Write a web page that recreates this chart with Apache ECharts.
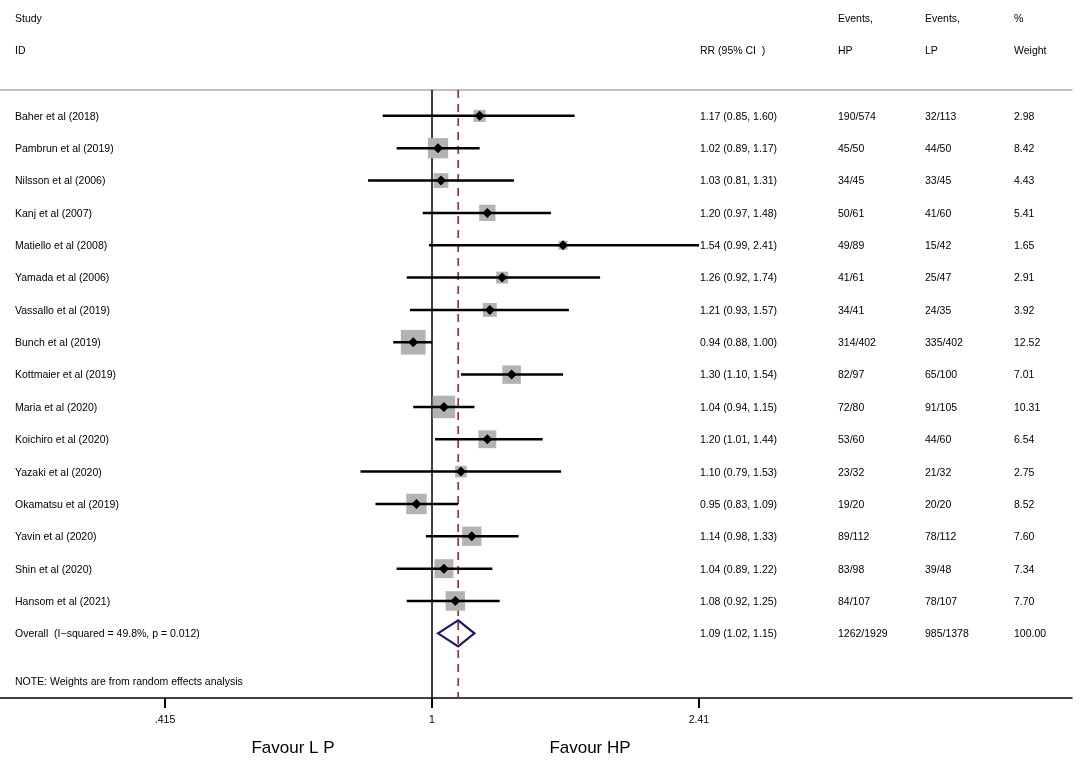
<!DOCTYPE html>
<html>
<head>
<meta charset="utf-8">
<title>Forest plot</title>
<script src="https://cdn.jsdelivr.net/npm/echarts@6/dist/echarts.min.js"></script>
<style>
  html, body { margin: 0; padding: 0; background: #fff; }
  #main { width: 1084px; height: 766px; }
</style>
</head>
<body>
<div id="main"></div>
<script>
var studies = [
  "Baher et al (2018)", "Pambrun et al (2019)", "Nilsson et al (2006)", "Kanj et al (2007)",
  "Matiello et al (2008)", "Yamada et al (2006)", "Vassallo et al (2019)", "Bunch et al (2019)",
  "Kottmaier et al (2019)", "Maria et al (2020)", "Koichiro et al (2020)", "Yazaki et al (2020)",
  "Okamatsu et al (2019)", "Yavin et al (2020)", "Shin et al (2020)", "Hansom et al (2021)"
];
var rr = [1.17, 1.02, 1.03, 1.20, 1.54, 1.26, 1.21, 0.94, 1.30, 1.04, 1.20, 1.10, 0.95, 1.14, 1.04, 1.08];
var ciLow = [0.85, 0.89, 0.81, 0.97, 0.99, 0.92, 0.93, 0.88, 1.10, 0.94, 1.01, 0.79, 0.83, 0.98, 0.89, 0.92];
var ciHigh = [1.60, 1.17, 1.31, 1.48, 2.41, 1.74, 1.57, 1.00, 1.54, 1.15, 1.44, 1.53, 1.09, 1.33, 1.22, 1.25];
var eventsHP = ["190/574", "45/50", "34/45", "50/61", "49/89", "41/61", "34/41", "314/402", "82/97", "72/80", "53/60", "23/32", "19/20", "89/112", "83/98", "84/107"];
var eventsLP = ["32/113", "44/50", "33/45", "41/60", "15/42", "25/47", "24/35", "335/402", "65/100", "91/105", "44/60", "21/32", "20/20", "78/112", "39/48", "78/107"];
var weights = [2.98, 8.42, 4.43, 5.41, 1.65, 2.91, 3.92, 12.52, 7.01, 10.31, 6.54, 2.75, 8.52, 7.60, 7.34, 7.70];

var overallLabel = "Overall  (I\u2212squared = 49.8%, p = 0.012)";
var overallRR = 1.09, overallLow = 1.02, overallHigh = 1.15;
var overallHP = "1262/1929", overallLP = "985/1378", overallWeight = "100.00";

var tickLabels = [".415", "1", "2.41"];

// x axis works on ln(RR)
var tickVals = tickLabels.map(function (t) { return Math.log(Number(t)); });
var xMin = -1.4234, xMax = 2.1087;
var yMin = -0.8, yMax = 18;
var FONT = "Liberation Sans";
var FS = 10.5;

function fmt(v) { return v.toFixed(2); }

var rowText = studies.map(function (s, i) {
  return [s, fmt(rr[i]) + " (" + fmt(ciLow[i]) + ", " + fmt(ciHigh[i]) + ")", eventsHP[i], eventsLP[i], fmt(weights[i])];
});
rowText.push([overallLabel, fmt(overallRR) + " (" + fmt(overallLow) + ", " + fmt(overallHigh) + ")", overallHP, overallLP, overallWeight]);

var studyData = studies.map(function (s, i) {
  return [i, Math.log(rr[i]), Math.log(ciLow[i]), Math.log(ciHigh[i]), weights[i]];
});
var overallData = [[studies.length, Math.log(overallRR), Math.log(overallLow), Math.log(overallHigh)]];
var textData = rowText.map(function (r, i) { return [i, 0]; });

var colX = [15, 700, 838, 925, 1014];

function txt(t, x, y, size, align) {
  return {
    type: "text",
    style: { text: t, x: x, y: y, fill: "#000", fontSize: size || FS, fontFamily: FONT, align: align || "left", verticalAlign: "middle" }
  };
}

var option = {
  animation: false,
  backgroundColor: "#fff",
  grid: { left: 0, right: 12, top: 90, bottom: 68 },
  xAxis: [
    {
      type: "value",
      min: xMin,
      max: xMax,
      position: "bottom",
      axisLine: { show: true, onZero: false, lineStyle: { color: "#000", width: 1.5 } },
      axisTick: { show: true, customValues: tickVals, length: 10, lineStyle: { color: "#000", width: 2 } },
      axisLabel: {
        show: true,
        customValues: tickVals,
        margin: 17,
        color: "#000",
        fontSize: FS,
        fontFamily: FONT,
        formatter: function (v) {
          var best = 0;
          tickVals.forEach(function (t, k) { if (Math.abs(t - v) < Math.abs(tickVals[best] - v)) best = k; });
          return tickLabels[best];
        }
      },
      splitLine: { show: false }
    },
    {
      type: "value",
      min: xMin,
      max: xMax,
      position: "top",
      axisLine: { show: true, onZero: false, lineStyle: { color: "#a8a8a8", width: 1.5 } },
      axisTick: { show: false },
      axisLabel: { show: false },
      splitLine: { show: false }
    }
  ],
  yAxis: {
    type: "value",
    inverse: true,
    min: yMin,
    max: yMax,
    show: false
  },
  series: [
    {
      type: "line",
      z: 1,
      data: [[0, yMin], [0, yMax]],
      symbol: "none",
      silent: true,
      lineStyle: { color: "#000", width: 1.5 }
    },
    {
      type: "line",
      z: 1,
      data: [[Math.log(overallRR), yMin], [Math.log(overallRR), yMax]],
      symbol: "none",
      silent: true,
      lineStyle: { color: "#a3141c", width: 1.5, type: [8, 6] }
    },
    {
      type: "custom",
      z: 5,
      data: studyData,
      renderItem: function (params, api) {
        var i = api.value(0);
        var c = api.coord([api.value(1), i]);
        var xl = api.coord([api.value(2), i])[0];
        var xh = api.coord([api.value(3), i])[0];
        var s = 7 * Math.sqrt(api.value(4));
        var d = 5;
        return {
          type: "group",
          children: [
            { type: "rect", shape: { x: c[0] - s / 2, y: c[1] - s / 2, width: s, height: s }, style: { fill: "#b3b3b3" } },
            { type: "line", shape: { x1: xl, y1: c[1], x2: xh, y2: c[1] }, style: { stroke: "#000", lineWidth: 2.5 } },
            { type: "polygon", shape: { points: [[c[0] - d, c[1]], [c[0], c[1] - d], [c[0] + d, c[1]], [c[0], c[1] + d]] }, style: { fill: "#000" } }
          ]
        };
      }
    },
    {
      type: "custom",
      z: 5,
      data: overallData,
      renderItem: function (params, api) {
        var i = api.value(0);
        var c = api.coord([api.value(1), i]);
        var xl = api.coord([api.value(2), i])[0];
        var xh = api.coord([api.value(3), i])[0];
        var h = 13;
        return {
          type: "polygon",
          shape: { points: [[xl, c[1]], [c[0], c[1] - h], [xh, c[1]], [c[0], c[1] + h]] },
          style: { fill: "none", stroke: "#1a1a66", lineWidth: 2.2 }
        };
      }
    },
    {
      type: "custom",
      z: 5,
      data: textData,
      renderItem: function (params, api) {
        var i = api.value(0);
        var y = api.coord([0, i])[1] + 1;
        var r = rowText[params.dataIndex];
        return {
          type: "group",
          children: r.map(function (t, k) { return txt(t, colX[k], y); })
        };
      }
    }
  ],
  graphic: [
    txt("Study", 15, 19),
    txt("ID", 15, 51),
    txt("RR (95% CI  )", 700, 51),
    txt("Events,", 838, 19),
    txt("HP", 838, 51),
    txt("Events,", 925, 19),
    txt("LP", 925, 51),
    txt("%", 1014, 19),
    txt("Weight", 1014, 51),
    txt("NOTE: Weights are from random effects analysis", 15, 682),
    txt("Favour L P", 293, 748, 17, "center"),
    txt("Favour HP", 590, 748, 17, "center")
  ]
};

var myChart = echarts.init(document.getElementById("main"));
myChart.setOption(option);
</script>
</body>
</html>
